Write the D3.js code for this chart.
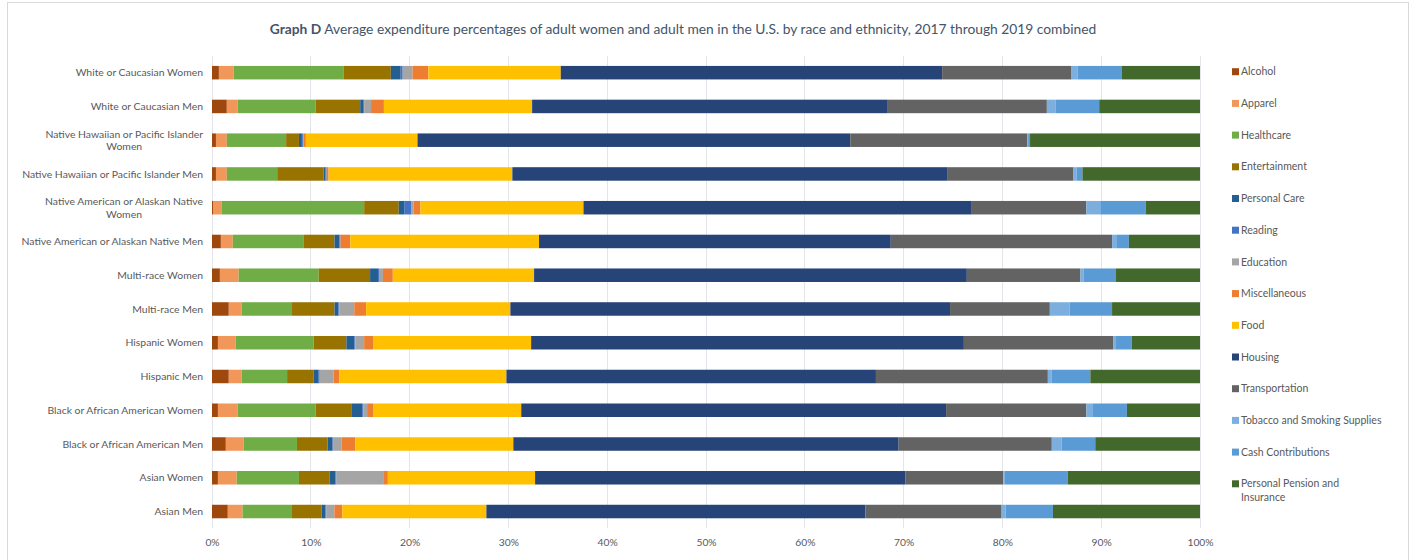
<!DOCTYPE html>
<html>
<head>
<meta charset="utf-8">
<script src="https://cdn.jsdelivr.net/npm/d3@7"></script>
<style>
  html, body { margin: 0; padding: 0; background: #fff; }
  svg { display: block; font-family: Lato, "Liberation Sans", sans-serif; }
</style>
</head>
<body>
<svg id="chart" width="1411" height="560"></svg>
<script>
// ---- Data ----
const categories = [
  "White or Caucasian Women",
  "White or Caucasian Men",
  "Native Hawaiian or Pacific Islander Women",
  "Native Hawaiian or Pacific Islander Men",
  "Native American or Alaskan Native Women",
  "Native American or Alaskan Native Men",
  "Multi-race Women",
  "Multi-race Men",
  "Hispanic Women",
  "Hispanic Men",
  "Black or African American Women",
  "Black or African American Men",
  "Asian Women",
  "Asian Men"
];

const seriesNames = [
  "Alcohol", "Apparel", "Healthcare", "Entertainment", "Personal Care", "Reading",
  "Education", "Miscellaneous", "Food", "Housing", "Transportation",
  "Tobacco and Smoking Supplies", "Cash Contributions", "Personal Pension and Insurance"
];

const seriesColors = [
  "#9E480E", "#F1975A", "#70AD47", "#997300", "#255E91", "#4472C4",
  "#A5A5A5", "#ED7D31", "#FFC000", "#264478", "#636363",
  "#7CAFDD", "#5B9BD5", "#43682B"
];

// values per series, in the same order as categories (percent)
const alcohol        = [0.7, 1.5, 0.4, 0.4, 0.1, 0.9, 0.8, 1.7, 0.6, 1.7, 0.6, 1.4, 0.6, 1.6];
const apparel        = [1.5, 1.1, 1.1, 1.1, 0.9, 1.2, 1.9, 1.3, 1.8, 1.3, 2.0, 1.8, 1.9, 1.5];
const healthcare     = [11.1, 7.9, 6.0, 5.1, 14.4, 7.2, 8.1, 5.1, 7.9, 4.6, 7.9, 5.4, 6.3, 5.0];
const entertainment  = [4.8, 4.5, 1.3, 4.7, 3.5, 3.1, 5.2, 4.3, 3.3, 2.7, 3.6, 3.1, 3.1, 3.0];
const personalCare   = [1.0, 0.3, 0.3, 0.2, 0.6, 0.5, 0.8, 0.4, 0.8, 0.5, 1.1, 0.5, 0.6, 0.4];
const reading        = [0.2, 0.1, 0.1, 0.1, 0.7, 0.1, 0.1, 0.1, 0.1, 0.1, 0.1, 0.1, 0.1, 0.1];
const education      = [1.0, 0.7, 0.1, 0.0, 0.2, 0.0, 0.4, 1.5, 0.9, 1.4, 0.4, 0.8, 4.8, 0.8];
const miscellaneous  = [1.6, 1.3, 0.2, 0.2, 0.7, 1.0, 1.0, 1.2, 0.9, 0.6, 0.6, 1.4, 0.4, 0.8];
const food           = [13.4, 15.0, 11.3, 18.6, 16.5, 19.1, 14.3, 14.6, 16.0, 16.9, 15.0, 16.0, 14.9, 14.6];
const housing        = [38.6, 36.0, 43.8, 44.0, 39.3, 35.6, 43.8, 44.5, 43.8, 37.4, 43.0, 39.0, 37.5, 38.4];
const transportation = [13.1, 16.1, 17.9, 12.8, 11.6, 22.4, 11.5, 10.1, 15.1, 17.4, 14.2, 15.5, 9.9, 13.8];
const tobacco        = [0.6, 0.9, 0.1, 0.3, 1.4, 0.5, 0.3, 2.0, 0.3, 0.4, 0.6, 1.0, 0.1, 0.4];
const cash           = [4.5, 4.4, 0.2, 0.6, 4.6, 1.2, 3.3, 4.3, 1.6, 3.9, 3.5, 3.4, 6.4, 4.8];
const pension        = [7.9, 10.2, 17.2, 11.9, 5.5, 7.2, 8.5, 8.9, 6.9, 11.1, 7.4, 10.6, 13.4, 14.9];

const seriesValues = [alcohol, apparel, healthcare, entertainment, personalCare, reading,
  education, miscellaneous, food, housing, transportation, tobacco, cash, pension];

const xTicks = [0, 0.1, 0.2, 0.3, 0.4, 0.5, 0.6, 0.7, 0.8, 0.9, 1.0];

const titleBold = "Graph D";
const titleRest = " Average expenditure percentages of adult women and adult men in the U.S. by race and ethnicity, 2017 through 2019 combined";

// ---- Build table ----
const table = categories.map((c, i) => {
  const row = { category: c };
  seriesNames.forEach((s, j) => { row[s] = seriesValues[j][i]; });
  return row;
});

const stacked = d3.stack()
  .keys(seriesNames)
  .offset(d3.stackOffsetExpand)(table);

// ---- Layout ----
const svg = d3.select("#chart");
const plot = { left: 212, right: 1200, top: 55.8, bottom: 528.4 };
const textColor = "#595959";

// outer border
svg.append("rect")
  .attr("x", 7.5).attr("y", 2.5)
  .attr("width", 1401).attr("height", 600)
  .attr("fill", "none").attr("stroke", "#D9D9D9").attr("stroke-width", 1);

const x = d3.scaleLinear().domain([0, 1]).range([plot.left, plot.right]);
const y = d3.scaleBand().domain(categories).range([plot.top, plot.bottom])
  .paddingInner(0.6).paddingOuter(0.3);
const color = d3.scaleOrdinal().domain(seriesNames).range(seriesColors);

// gridlines
svg.append("g")
  .selectAll("line")
  .data(xTicks)
  .join("line")
  .attr("x1", d => x(d)).attr("x2", d => x(d))
  .attr("y1", plot.top).attr("y2", plot.bottom)
  .attr("stroke", "#E3E5EA").attr("stroke-width", 1)
  .attr("shape-rendering", "crispEdges");

// bars
svg.append("g")
  .selectAll("g")
  .data(stacked)
  .join("g")
  .attr("fill", d => color(d.key))
  .selectAll("rect")
  .data(d => d)
  .join("rect")
  .attr("x", d => x(d[0]))
  .attr("width", d => Math.max(0, x(d[1]) - x(d[0])))
  .attr("y", d => y(d.data.category))
  .attr("height", y.bandwidth());

// x axis
const xAxis = d3.axisBottom(x).tickValues(xTicks).tickFormat(d3.format(".0%")).tickSize(0).tickPadding(10);
const gx = svg.append("g").attr("transform", `translate(0,${plot.bottom})`).call(xAxis);
gx.select(".domain").remove();
gx.selectAll("text").attr("fill", textColor).attr("font-size", 10.3)
  .attr("font-family", "Lato, sans-serif");

// wrap helper: returns array of lines that fit maxWidth
function wrapLines(textSel, str, maxWidth) {
  const words = str.split(" ");
  const lines = [];
  let cur = [];
  words.forEach(wd => {
    cur.push(wd);
    textSel.text(cur.join(" "));
    if (textSel.node().getComputedTextLength() > maxWidth && cur.length > 1) {
      cur.pop();
      lines.push(cur.join(" "));
      cur = [wd];
    }
  });
  lines.push(cur.join(" "));
  return lines;
}

// y axis labels (right aligned, wrapped & centered when too long)
const yLabels = svg.append("g");
const labelFont = 10.4;
const measure = yLabels.append("text").attr("font-size", labelFont).text("Native American or Alaskan Native Men");
const refW = measure.node().getComputedTextLength();
measure.remove();
const maxW = refW * 186 / 181;
const labelRight = 203;

categories.forEach(c => {
  const cy = y(c) + y.bandwidth() / 2;
  const t = yLabels.append("text").attr("font-size", labelFont).attr("fill", textColor).text(c);
  const w = t.node().getComputedTextLength();
  if (w <= maxW) {
    t.attr("x", labelRight).attr("y", cy).attr("dy", "0.35em").attr("text-anchor", "end");
  } else {
    const lines = wrapLines(t, c, maxW);
    t.text(lines[0]);
    const w0 = t.node().getComputedTextLength();
    t.remove();
    const centerX = labelRight - w0 / 2;
    const lh = 12.5;
    lines.forEach((ln, k) => {
      yLabels.append("text").attr("font-size", labelFont).attr("fill", textColor)
        .attr("x", centerX).attr("text-anchor", "middle")
        .attr("y", cy + (k - (lines.length - 1) / 2) * lh).attr("dy", "0.35em")
        .text(ln);
    });
  }
});

// title
const title = svg.append("text")
  .attr("x", 683).attr("y", 29).attr("dy", "0.35em")
  .attr("text-anchor", "middle").attr("font-size", 13.8).attr("fill", "#44546A");
title.append("tspan").attr("font-weight", "bold").text(titleBold);
title.append("tspan").text(titleRest);

// legend
const legend = svg.append("g");
const legFont = 10.5;
const legX = 1232, legY0 = 71.7, legStep = 31.7;
const legMeasure = legend.append("text").attr("font-size", legFont).text("Tobacco and Smoking Supplies");
const legMaxW = legMeasure.node().getComputedTextLength() + 2;
legMeasure.remove();
seriesNames.forEach((s, i) => {
  const cy = legY0 + i * legStep;
  legend.append("rect").attr("x", legX).attr("y", cy - 3.5).attr("width", 7).attr("height", 7)
    .attr("fill", color(s));
  const t = legend.append("text").attr("x", legX + 9).attr("font-size", legFont).attr("fill", textColor)
    .attr("y", cy).attr("dy", "0.35em").text(s);
  if (t.node().getComputedTextLength() > legMaxW) {
    const lines = wrapLines(t, s, legMaxW);
    t.text(lines[0]);
    lines.slice(1).forEach((ln, k) => {
      legend.append("text").attr("x", legX + 9).attr("font-size", legFont).attr("fill", textColor)
        .attr("y", cy + 13.5 * (k + 1)).attr("dy", "0.35em").text(ln);
    });
  }
});
</script>
</body>
</html>
